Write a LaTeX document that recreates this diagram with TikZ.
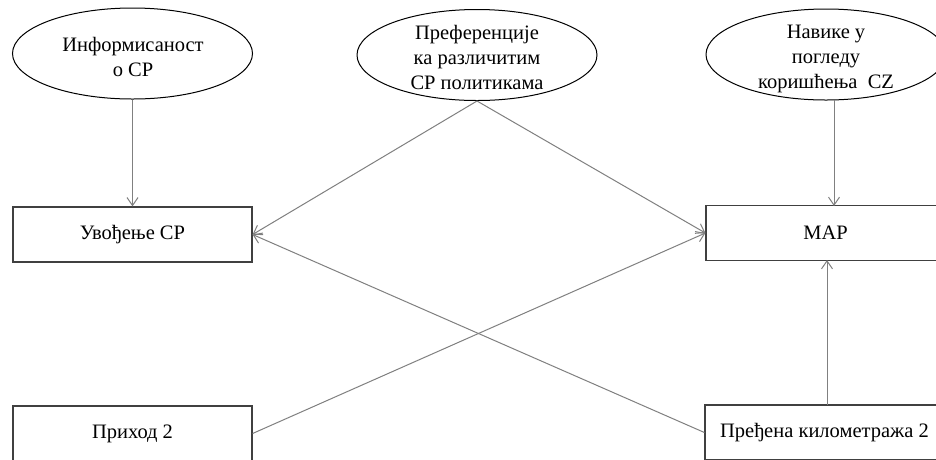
\documentclass[tikz,border=0pt]{standalone}
\usepackage{fontspec}
\setmainfont{Liberation Serif}
\usetikzlibrary{shapes.geometric,arrows.meta}
\begin{document}
\begin{tikzpicture}[x=1pt,y=-1pt,
  every node/.style={font=\fontsize{20.5}{25}\selectfont},
  oval/.style={ellipse,draw=black,line width=1pt,inner sep=0pt,minimum width=240pt,minimum height=91pt},
  txt/.style={align=center,inner sep=0pt},
  box/.style={rectangle,draw=black!75,line width=1.2pt,inner sep=0pt,minimum width=239pt,minimum height=55pt},
  arr/.style={draw=black!50,line width=1pt,-{Straight Barb[length=8pt,width=11pt]}},
  ln/.style={draw=black!50,line width=1pt}]
\useasboundingbox (0,0) rectangle (936,459);
\clip (0,0) rectangle (936,459);
\fill[white] (0,0) rectangle (936,459);
% ellipses
\node[oval] (e1) at (132.5,53.5) {};
\node[txt] at (133,57) {Информисаност\\о СР};
\node[oval] (e2) at (477,55) {};
\node[txt] at (477,57) {Преференције\\ка различитим\\СР политикама};
\node[oval] (e3) at (826,54.5) {};
\node[txt] at (826,59) {Навике у\\погледу\\коришћења\ \ CZ};
% boxes
\node[box] (uv) at (132.5,234.5) {Увођење СР};
\node[box] (map) at (825.5,233) {MAP};
\node[box] (pr) at (132.5,433.5) {Приход 2};
\node[box] (km) at (824.5,432.5) {Пређена\ километража\ 2};
% helper coordinates
\coordinate (mapL) at (map.west);
\coordinate (uvR) at (uv.east);
\coordinate (mapT) at (834,206);
\coordinate (e3B) at (834,99.5);
\coordinate (mapB) at (827,260);
\coordinate (kmT) at (827,405);
% connectors
\draw[arr] (e1.south) -- (uv.north);
\draw[arr] (e2.south) -- (uvR);
\draw[arr] (e2.south) -- (mapL);
\draw[arr] (e3B) -- (mapT);
\draw[arr] (pr.east) -- (mapL);
\draw[arr] (km.west) -- (uvR);
\draw[arr] (kmT) -- (mapB);
\end{tikzpicture}
\end{document}
